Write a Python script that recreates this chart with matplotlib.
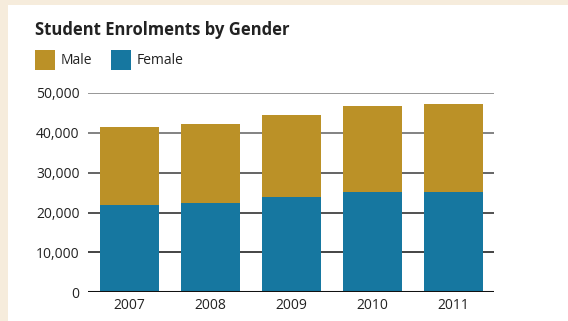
import numpy as np
import matplotlib.pyplot as plt
from matplotlib.patches import Rectangle

# enrolments
years = ['2007', '2008', '2009', '2010', '2011']
female = [21900, 22400, 23900, 25200, 25200]
male = [19600, 19800, 20600, 21500, 22000]
yticks = [0, 10000, 20000, 30000, 40000, 50000]

male_col = '#bb9127'
female_col = '#1677a0'

plt.rcParams['font.family'] = ['Open Sans', 'DejaVu Sans']

fig = plt.figure(figsize=(5.68, 3.21), dpi=100)
fig.patch.set_facecolor('#f6ecdc')
# white panel, behind the axes
fig.patches.append(Rectangle((8/568, 0), 1, 1 - 5/321, transform=fig.transFigure,
                             facecolor='white', edgecolor='none', zorder=-1))

ax = fig.add_axes([88/568, 1 - 292.3/321, (494 - 88)/568, (292.3 - 93)/321])
ax.set_facecolor('none')

x = np.arange(len(years))
ax.bar(x, female, width=0.73, color=female_col, zorder=2)
ax.bar(x, male, width=0.73, bottom=female, color=male_col, zorder=2)

# gridlines get darker towards the bottom
grid_cols = ['#111111', '#222222', '#3a3a3a', '#606060', '#7a7a7a']
for v, c in zip(yticks[1:], grid_cols):
    ax.axhline(v, color=c, linewidth=1.1, zorder=1)
ax.axhline(0, color='#111111', linewidth=2.2, zorder=3)

ax.set_xlim(-0.51, 4.5)
ax.set_ylim(0, 50000)
ax.set_xticks(x, years)
ax.set_yticks(yticks, ['{:,}'.format(v) for v in yticks])
ax.tick_params(length=0, labelsize=10, colors='#222222')
ax.tick_params(axis='y', pad=6)
ax.tick_params(axis='x', pad=4)
for s in ax.spines.values():
    s.set_visible(False)

fig.text(35/568, 1 - 30/321, 'Student Enrolments by Gender', fontsize=12, fontweight='bold',
         color='#222222', va='center', ha='left')

# legend squares
for x0, lab, col in [(35, 'Male', male_col), (111, 'Female', female_col)]:
    fig.patches.append(Rectangle((x0/568, 1 - 70/321), 20/568, 20/321,
                                 transform=fig.transFigure, facecolor=col, edgecolor='none'))
    fig.text((x0 + 26)/568, 1 - 61/321, lab, fontsize=10, color='#222222', va='center', ha='left')

fig.savefig('out.png', dpi=100, facecolor=fig.get_facecolor())
